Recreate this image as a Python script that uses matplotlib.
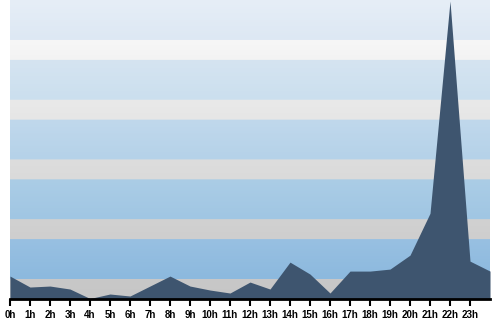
import matplotlib
matplotlib.use("Agg")
import matplotlib.pyplot as plt
import numpy as np
from matplotlib.colors import to_rgb

hours = list(range(25))
tick_labels = [f"{h}h" for h in range(24)]
values = [23, 12, 13, 10, 0.5, 5, 3, 13, 23, 13, 9, 6, 17, 10, 37, 25, 6,
          28, 28, 30, 44, 86, 299, 38, 28]

blue_top = ["#e6eef7", "#d5e4f1", "#c0d8ec", "#abcde6", "#98c0e2"]
blue_bot = ["#dde8f3", "#cbdfee", "#b5d2e9", "#a0c6e3", "#8cb9de"]
gray_top = ["#f7f7f7", "#e9e9e9", "#dddddd", "#d1d1d1", "#c8c8c8"]
gray_bot = ["#f3f3f3", "#e6e6e6", "#dadada", "#cecece", "#c6c6c6"]
area_color = "#3e556f"

fig = plt.figure(figsize=(5, 3.2), dpi=100)
ax = fig.add_axes([10/500, 21/320, 480/500, 299/320])

# background stripes
rows = []
for i in range(5):
    for t in np.linspace(0, 1, 40):
        rows.append(np.array(to_rgb(blue_top[i])) * (1 - t) + np.array(to_rgb(blue_bot[i])) * t)
    for t in np.linspace(0, 1, 20):
        rows.append(np.array(to_rgb(gray_top[i])) * (1 - t) + np.array(to_rgb(gray_bot[i])) * t)
img = np.array(rows)[:, None, :]
ax.imshow(img, extent=[0, 24, 0, 300], aspect="auto", origin="upper", zorder=0)

ax.fill_between(hours, values, 0, color=area_color, linewidth=0, zorder=2)

ax.set_xlim(0, 24)
ax.set_ylim(0, 300)
ax.set_xticks(range(24))
ax.set_xticklabels(tick_labels, fontsize=7, fontweight="bold", family="Liberation Sans")
ax.tick_params(axis="x", length=5, width=1.5, color="black", pad=3)
ax.set_yticks([])
for s in ["top", "right", "left"]:
    ax.spines[s].set_visible(False)
ax.spines["bottom"].set_linewidth(2)
ax.spines["bottom"].set_color("black")

fig.savefig("out.png", dpi=100)
